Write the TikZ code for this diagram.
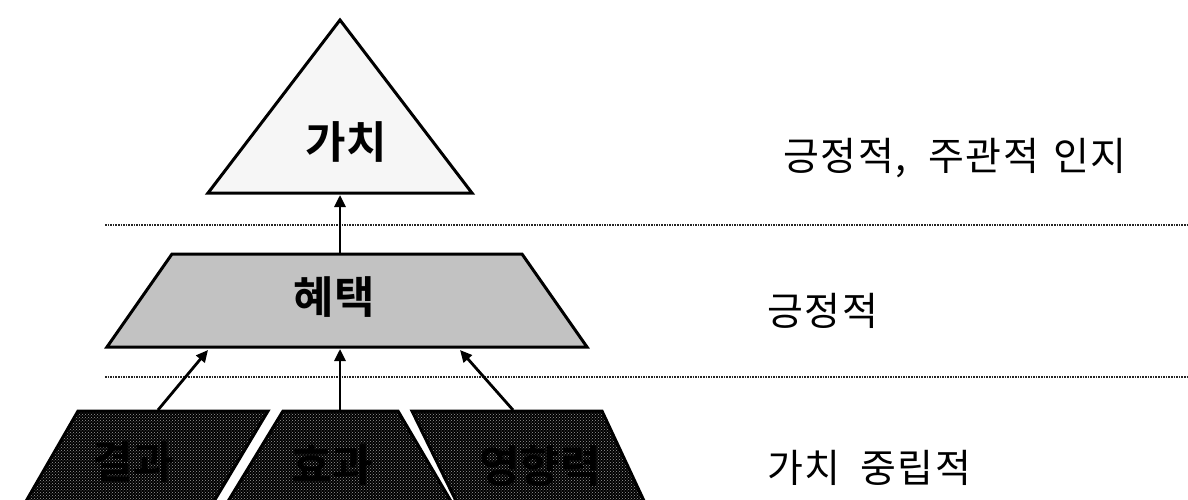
\documentclass[tikz,border=0pt]{standalone}
\usepackage{fontspec}
\setmainfont{Noto Sans CJK KR}[BoldFont={Noto Sans CJK KR Bold}]
\newfontfamily\sidefont{Noto Sans CJK KR}[LetterSpace=4]
\usetikzlibrary{arrows.meta,patterns}
\definecolor{lightfill}{HTML}{F6F6F6}
\definecolor{midfill}{HTML}{C2C2C2}
\definecolor{dotcol}{HTML}{9A9A9A}
\tikzset{
  shapeline/.style={draw=black, line width=3pt, line join=miter},
  darkbox/.style={fill=black},
  darkdots/.style={pattern=crosshatch dots, pattern color=dotcol},
  sepline/.style={draw=black!85, line width=1.6pt, densely dotted},
  conn/.style={draw=black, line width=2.8pt, -{Triangle[length=12pt,width=11pt]}},
  inlabel/.style={font=\bfseries\fontsize{44}{48}\selectfont, inner sep=0pt},
  sidelabel/.style={font=\sidefont\fontsize{39}{44}\selectfont, anchor=west, inner sep=0pt}
}
\begin{document}
\begin{tikzpicture}[x=1pt,y=-1pt]
\useasboundingbox[fill=white] (0,0) rectangle (1188,500);
% separator lines
\coordinate (s1a) at (105,225); \coordinate (s1b) at (1188,225);
\coordinate (s2a) at (105,377); \coordinate (s2b) at (1188,377);
\draw[sepline] (s1a) -- (s1b);
\draw[sepline] (s2a) -- (s2b);
% value triangle
\draw[shapeline, fill=lightfill] (340,20) -- (472,193) -- (208,193) -- cycle;
\node[inlabel] (value) at (346,142) {가치};
% benefit trapezoid
\draw[shapeline, fill=midfill] (172,254) -- (522,254) -- (587,347) -- (107,347) -- cycle;
\node[inlabel] (benefit) at (334,297) {혜택};
% bottom boxes
\foreach \pts in {{(78,411) -- (268,411) -- (213,503) -- (25,503)},
                  {(283,411) -- (398,411) -- (452,503) -- (227,503)},
                  {(412,411) -- (602,411) -- (645,503) -- (457,503)}} {
  \fill[darkbox] \pts -- cycle;
  \fill[darkdots] \pts -- cycle;
  \draw[shapeline] \pts -- cycle;
}
\node[inlabel, text=black] (b1) at (133,462) {결과};
\node[inlabel, text=black] (b2) at (332,465) {효과};
\node[inlabel, text=black] (b3) at (540,466) {영향력};
% connector end points
\coordinate (triBase) at (340,195);
\coordinate (trapTop) at (340,253);
\coordinate (trapL) at (208,350);
\coordinate (trapM) at (340,349);
\coordinate (trapR) at (460,350);
\coordinate (box1Top) at (158,410);
\coordinate (box2Top) at (340,410);
\coordinate (box3Top) at (513,410);
\draw[conn] (trapTop) -- (triBase);
\draw[conn] (box1Top) -- (trapL);
\draw[conn] (box2Top) -- (trapM);
\draw[conn] (box3Top) -- (trapR);
% side labels
\node[sidelabel] (l1) at (783,158) {긍정적,\hspace{22pt}주관적\hspace{14pt}인지};
\node[sidelabel] (l2) at (767,311) {긍정적};
\node[sidelabel] (l3) at (767,468) {가치\hspace{20pt}중립적};
\end{tikzpicture}
\end{document}
